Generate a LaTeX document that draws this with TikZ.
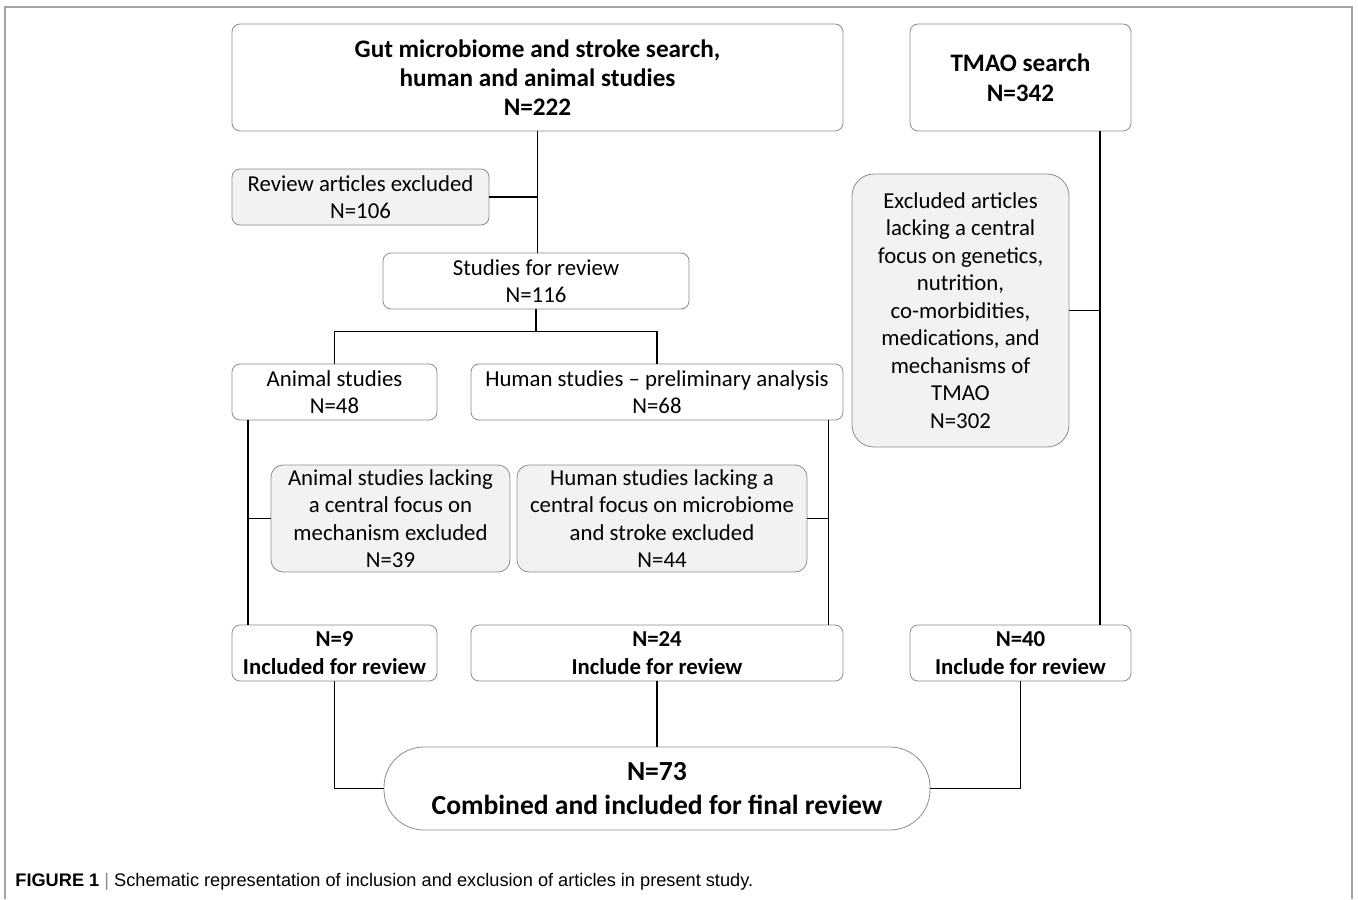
\documentclass[tikz,border=0pt]{standalone}
\usepackage{fontspec}
\setmainfont{Carlito}
\newfontfamily\capfont{Liberation Sans}
\usepackage{xcolor}
\usepackage{tikz}
\definecolor{boxgray}{HTML}{F2F2F2}
\definecolor{edge}{HTML}{8C8C8C}

\begin{document}
\begin{tikzpicture}[x=0.5pt, y=-0.5pt,
        box/.style={draw=edge, rounded corners=4pt, fill=white, align=center,
            inner sep=0pt, font=\fontsize{11.4}{13.75}\selectfont},
        excl/.style={box, fill=boxgray},
        bbox/.style={box, font=\bfseries\fontsize{11.4}{14}\selectfont},
        wire/.style={line width=0.9pt, black}]
        \useasboundingbox (0,0) rectangle (1358,899);

        % Cornice della figura
        \draw[edge!80, line width=0.6pt] (5,899) -- (5,7) -- (1352,7) -- (1352,899);

        % Ricerche
        \node[box, minimum width=305.5pt, minimum height=53.5pt,
            font=\bfseries\fontsize{12.6}{14.5}\selectfont] (gut) at (537.5,77.5)
            {Gut microbiome and stroke search,\\ human and animal studies\\ N=222};
        \node[box, minimum width=110.5pt, minimum height=53.5pt,
            font=\bfseries\fontsize{12.6}{15}\selectfont] (tmao) at (1020.5,77.5)
            {TMAO search\\ N=342};

        % Esclusioni e studi
        \node[excl, minimum width=128.5pt, minimum height=28pt] (rev) at (360.5,197)
            {Review articles excluded\\ N=106};
        \node[box, minimum width=153pt, minimum height=28pt] (stud) at (536,281)
            {Studies for review\\ N=116};
        \node[box, minimum width=102.5pt, minimum height=28pt] (anim) at (334.5,392)
            {Animal studies\\ N=48};
        \node[box, minimum width=186pt, minimum height=28pt] (hum) at (657,392)
            {Human studies -- preliminary analysis\\ N=68};
        \node[excl, minimum width=119.5pt, minimum height=53.5pt, rounded corners=6pt] (anex) at (390.5,518.5)
            {Animal studies lacking\\ a central focus on\\ mechanism excluded\\ N=39};
        \node[excl, minimum width=145pt, minimum height=53.5pt, rounded corners=6pt] (huex) at (662,518.5)
            {Human studies lacking a\\ central focus on microbiome\\ and stroke excluded\\ N=44};
        \node[excl, minimum width=108.5pt, minimum height=136.5pt, rounded corners=11pt] (tmex) at (960.5,310.5)
            {Excluded articles\\ lacking a central\\ focus on genetics,\\ nutrition,\\ co-morbidities,\\
             medications, and\\ mechanisms of\\ TMAO\\ N=302};

        % Inclusi
        \node[bbox, minimum width=102.5pt, minimum height=28pt] (inc9) at (334.5,653)
            {N=9\\ Included for review};
        \node[bbox, minimum width=186pt, minimum height=28pt] (inc24) at (657,653)
            {N=24\\ Include for review};
        \node[bbox, minimum width=110.5pt, minimum height=28pt] (inc40) at (1020.5,653)
            {N=40\\ Include for review};
        \node[box, minimum width=273pt, minimum height=41.5pt, rounded corners=20pt,
            font=\bfseries\fontsize{13.8}{17}\selectfont] (fin) at (657,788.5)
            {N=73\\ Combined and included for final review};

        % Collegamenti
        \draw[wire] (gut.south) -- (gut.south |- stud.north);
        \draw[wire] (rev.east) -- (rev.east -| gut.south);
        \coordinate (split) at ([yshift=-11pt]stud.south);
        \draw[wire] (stud.south) -- (split);
        \draw[wire] (anim.north) -- (anim.north |- split) -- (hum.north |- split) -- (hum.north);
        \coordinate (aline) at ([xshift=8pt]anim.south west);
        \draw[wire] (aline) -- (aline |- inc9.north);
        \draw[wire] (anex.west) -- (anex.west -| aline);
        \coordinate (hline) at ([xshift=-7.5pt]hum.south east);
        \draw[wire] (hline) -- (hline |- inc24.north);
        \draw[wire] (huex.east) -- (huex.east -| hline);
        \coordinate (tline) at ([xshift=39.75pt]tmao.south);
        \draw[wire] (tline) -- (tline |- inc40.north);
        \draw[wire] (tmex.east) -- (tmex.east -| tline);
        \draw[wire] (inc9.south) -- (inc9.south |- fin.west) -- (fin.west);
        \draw[wire] (inc24.south) -- (fin.north);
        \draw[wire] (inc40.south) -- (inc40.south |- fin.east) -- (fin.east);

        % Didascalia
        \node[anchor=base west, inner sep=0pt, font=\capfont\fontsize{9.1}{11}\selectfont] (cap) at (15,886)
            {\textbf{FIGURE 1} {\color{edge}|} Schematic representation of inclusion and exclusion of articles in present study.};
    \end{tikzpicture}
\end{document}
